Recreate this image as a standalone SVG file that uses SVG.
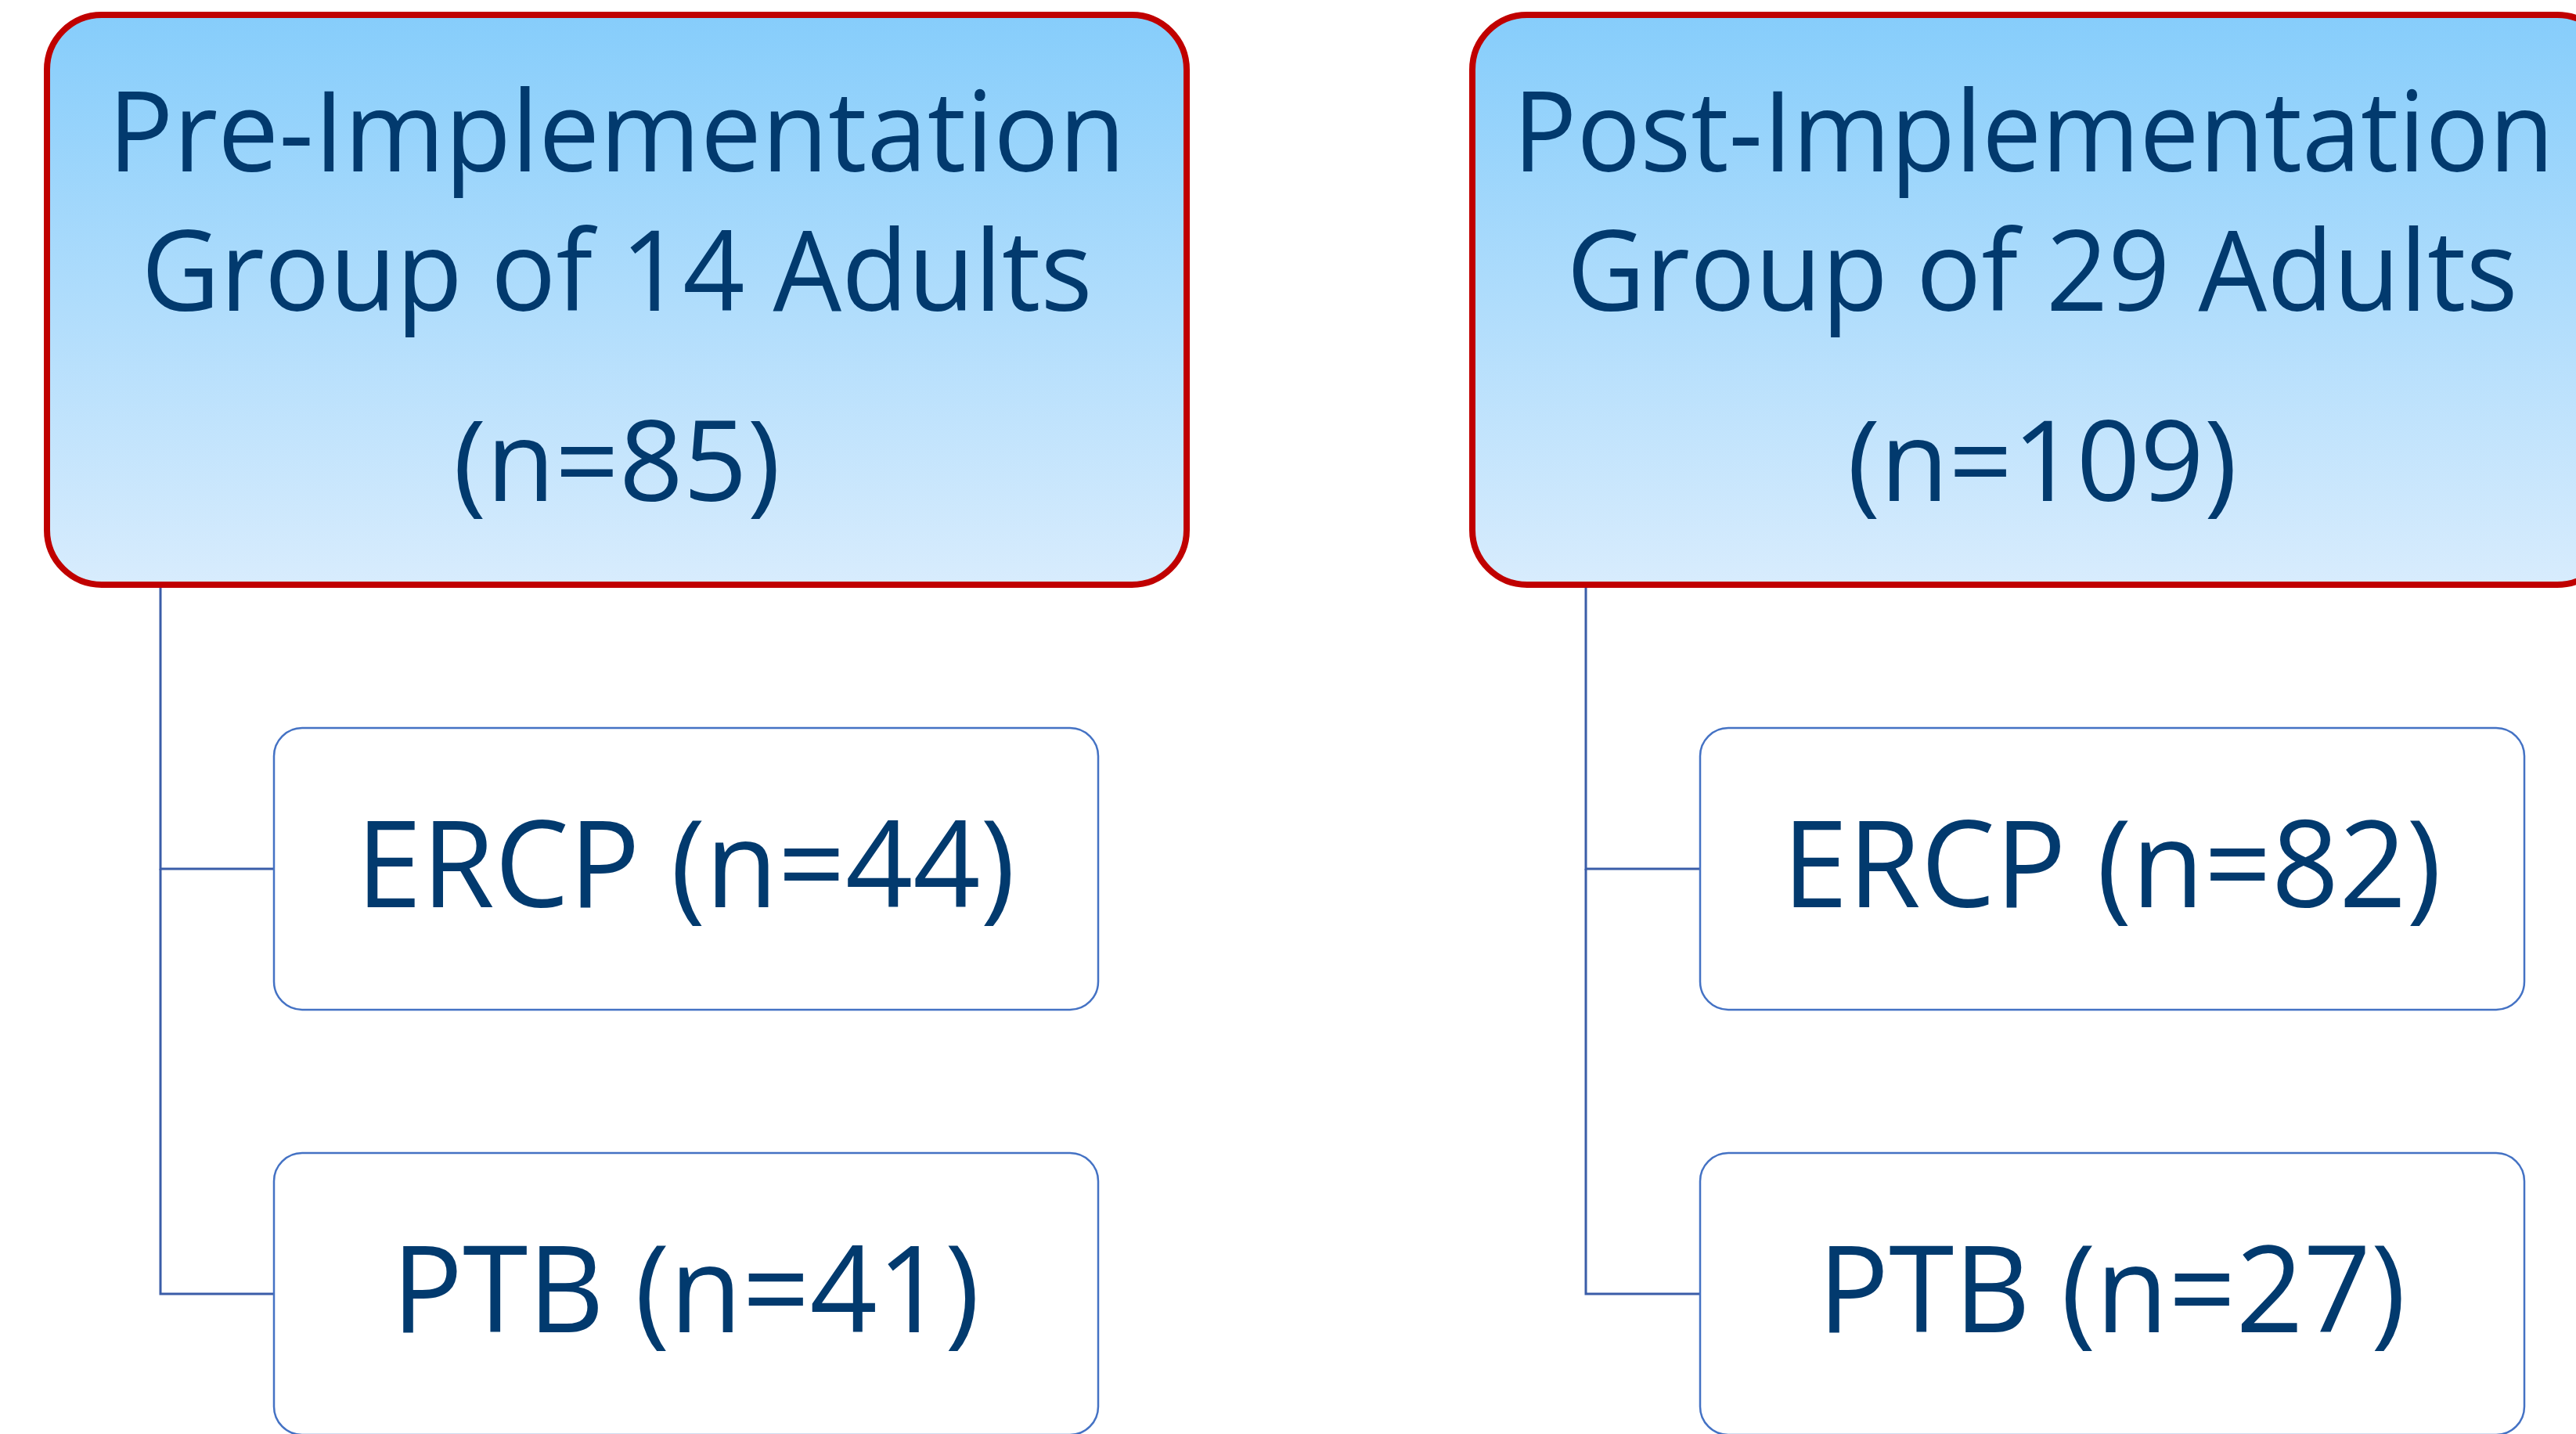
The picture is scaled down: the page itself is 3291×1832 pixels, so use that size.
<svg xmlns="http://www.w3.org/2000/svg" width="3291" height="1832" viewBox="0 0 3291 1832">
<defs>
<linearGradient id="hg" x1="0" y1="0" x2="0" y2="1">
<stop offset="0" stop-color="#86CDFB"/>
<stop offset="1" stop-color="#D8ECFD"/>
</linearGradient>
</defs>
<style>
.hdr{fill:url(#hg);stroke:#C00000;stroke-width:8}
.child{fill:#FFFFFF;stroke:#4472C4;stroke-width:2.5}
.conn{fill:none;stroke:#3A5DA8;stroke-width:3}
.t{font-family:"Open Sans","Noto Sans","Liberation Sans",sans-serif;fill:#023A6E;text-anchor:middle}
.th{font-size:143px}
.tc{font-size:153px}
</style>
<rect width="3291" height="1832" fill="#FFFFFF"/>
<g id="connectors">
<polyline class="conn" points="205,747 205,1110 350,1110"/>
<polyline class="conn" points="205,1110 205,1653 350,1653"/>
<polyline class="conn" points="2026,747 2026,1110 2172,1110"/>
<polyline class="conn" points="2026,1110 2026,1653 2172,1653"/>
</g>
<g id="pre">
<rect class="hdr" x="60" y="19" width="1456" height="728" rx="70" ry="70"/>
<text class="t th" x="788" y="219" textLength="1300" lengthAdjust="spacingAndGlyphs">Pre-Implementation</text>
<text class="t th" x="788" y="397" textLength="1215" lengthAdjust="spacingAndGlyphs">Group of 14 Adults</text>
<text class="t th" x="788" y="640" textLength="418" lengthAdjust="spacingAndGlyphs">(n=85)</text>
</g>
<g id="post">
<rect class="hdr" x="1881" y="19" width="1456" height="728" rx="70" ry="70"/>
<text class="t th" x="2598" y="219" textLength="1330" lengthAdjust="spacingAndGlyphs">Post-Implementation</text>
<text class="t th" x="2609" y="397" textLength="1215" lengthAdjust="spacingAndGlyphs">Group of 29 Adults</text>
<text class="t th" x="2609" y="640" textLength="498" lengthAdjust="spacingAndGlyphs">(n=109)</text>
</g>
<g id="pre-ercp">
<rect class="child" x="350" y="930" width="1053" height="360" rx="36" ry="36"/>
<text class="t tc" x="876" y="1159" textLength="842" lengthAdjust="spacingAndGlyphs">ERCP (n=44)</text>
</g>
<g id="pre-ptb">
<rect class="child" x="350" y="1473" width="1053" height="360" rx="36" ry="36"/>
<text class="t tc" x="876" y="1702" textLength="751" lengthAdjust="spacingAndGlyphs">PTB (n=41)</text>
</g>
<g id="post-ercp">
<rect class="child" x="2172" y="930" width="1053" height="360" rx="36" ry="36"/>
<text class="t tc" x="2698" y="1159" textLength="842" lengthAdjust="spacingAndGlyphs">ERCP (n=82)</text>
</g>
<g id="post-ptb">
<rect class="child" x="2172" y="1473" width="1053" height="360" rx="36" ry="36"/>
<text class="t tc" x="2698" y="1702" textLength="751" lengthAdjust="spacingAndGlyphs">PTB (n=27)</text>
</g>
</svg>
